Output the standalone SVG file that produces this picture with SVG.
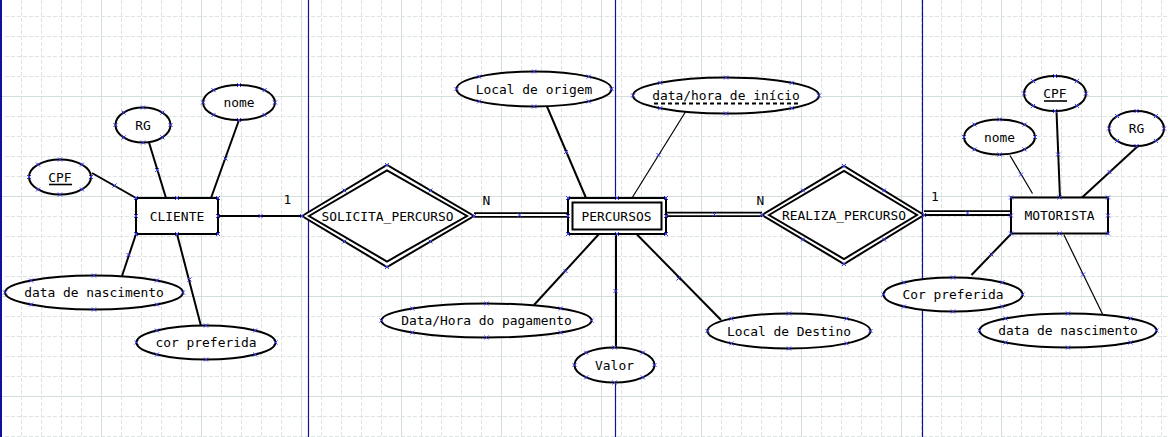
<svg xmlns="http://www.w3.org/2000/svg" xmlns:xlink="http://www.w3.org/1999/xlink" width="1168" height="437" viewBox="0 0 1168 437">
<style>
.gd{fill:none;stroke:#dde5e2;stroke-width:1;stroke-dasharray:4,2}
.gs{fill:none;stroke:#d3dedb;stroke-width:1}
.pg{stroke:#10109a;stroke-width:1.2}
.ent{fill:#fff;stroke:#000;stroke-width:2}
.att{fill:#fff;stroke:#000;stroke-width:2}
.rel{fill:#fff;stroke:#000;stroke-width:2;stroke-linejoin:miter}
.ln{stroke:#000;stroke-width:2;fill:none}
.thin{stroke:#000;stroke-width:1.2;fill:none}
.dbl{stroke:#000;stroke-width:1.8;fill:none}
text{font-family:"DejaVu Sans Mono","Liberation Mono",monospace;font-size:12.9px;fill:#000;text-anchor:middle}
.ul{stroke:#000;stroke-width:1.6}
.du{stroke:#000;stroke-width:2;stroke-dasharray:4,3}
.mk{stroke:#3a3af0;stroke-width:1;fill:none}
</style>
<defs>
<path id="x" class="mk" d="M-2-2l4 4m0-4l-4 4"/>
</defs>
<rect width="1168" height="437" fill="#fff"/>
<g id="grid">
<path class="gd" d="M21.5 0V437M41.5 0V437M61.5 0V437M81.5 0V437M121.5 0V437M141.5 0V437M161.5 0V437M181.5 0V437M221.5 0V437M241.5 0V437M261.5 0V437M281.5 0V437M321.5 0V437M341.5 0V437M361.5 0V437M381.5 0V437M421.5 0V437M441.5 0V437M461.5 0V437M481.5 0V437M521.5 0V437M541.5 0V437M561.5 0V437M581.5 0V437M621.5 0V437M641.5 0V437M661.5 0V437M681.5 0V437M721.5 0V437M741.5 0V437M761.5 0V437M781.5 0V437M821.5 0V437M841.5 0V437M861.5 0V437M881.5 0V437M921.5 0V437M941.5 0V437M961.5 0V437M981.5 0V437M1021.5 0V437M1041.5 0V437M1061.5 0V437M1081.5 0V437M1121.5 0V437M1141.5 0V437M1161.5 0V437"/>
<path class="gd" d="M5 16.5H1168M5 36.5H1168M5 56.5H1168M5 76.5H1168M5 116.5H1168M5 136.5H1168M5 156.5H1168M5 176.5H1168M5 216.5H1168M5 236.5H1168M5 256.5H1168M5 276.5H1168M5 316.5H1168M5 336.5H1168M5 356.5H1168M5 376.5H1168M5 416.5H1168M5 436.5H1168"/>
<path class="gs" d="M101.5 0V437M201.5 0V437M301.5 0V437M401.5 0V437M501.5 0V437M601.5 0V437M701.5 0V437M801.5 0V437M901.5 0V437M1001.5 0V437M1101.5 0V437M0 96.5H1168M0 196.5H1168M0 296.5H1168M0 396.5H1168"/>
<line class="pg" x1="1" y1="0" x2="1" y2="437" style="stroke-width:2"/>
<line class="pg" x1="308.5" y1="0" x2="308.5" y2="437"/>
<line class="pg" x1="615.5" y1="0" x2="615.5" y2="437"/>
<line class="pg" x1="922.5" y1="0" x2="922.5" y2="437"/>
</g>
<g id="connectors">
<line class="ln" x1="92" y1="173" x2="136" y2="198"/>
<line class="ln" x1="149" y1="142.5" x2="166" y2="198"/>
<line class="ln" x1="239" y1="120" x2="211" y2="198"/>
<line class="ln" x1="136" y1="234" x2="122" y2="276"/>
<line class="ln" x1="177" y1="234" x2="201" y2="326"/>
<line class="ln" x1="218" y1="216" x2="302" y2="216"/>
<line class="ln" x1="547" y1="106.5" x2="586" y2="198"/>
<line class="thin" x1="686" y1="111" x2="632" y2="198"/>
<line class="dbl" x1="474" y1="213.2" x2="568" y2="213.2"/>
<line class="dbl" x1="474" y1="216.8" x2="568" y2="216.8"/>
<line class="ln" x1="599" y1="234" x2="534" y2="305"/>
<line class="ln" x1="616" y1="234" x2="616" y2="347.5"/>
<line class="ln" x1="636.5" y1="234" x2="721" y2="320"/>
<line class="dbl" x1="666" y1="212.6" x2="762" y2="212.6"/>
<line class="dbl" x1="666" y1="216.2" x2="762" y2="216.2"/>
<line class="dbl" x1="924" y1="211.2" x2="1011" y2="211.2"/>
<line class="dbl" x1="924" y1="215" x2="1011" y2="215"/>
<line class="thin" x1="1010" y1="155.5" x2="1032.5" y2="193.5"/>
<line class="ln" x1="1056.5" y1="111" x2="1060" y2="198"/>
<line class="ln" x1="1138" y1="146" x2="1081.5" y2="198"/>
<line class="ln" x1="1011" y1="234" x2="971.5" y2="275"/>
<line class="thin" x1="1064" y1="235" x2="1102.5" y2="314"/>
<text x="287.5" y="204">1</text>
<text x="486.5" y="205">N</text>
<text x="760.5" y="205">N</text>
<text x="935" y="201">1</text>
<use href="#x" x="114.5" y="185.5"/>
<use href="#x" x="157" y="170"/>
<use href="#x" x="225.5" y="158.5"/>
<use href="#x" x="128.5" y="255"/>
<use href="#x" x="189.5" y="279.5"/>
<use href="#x" x="260.5" y="216"/>
<use href="#x" x="566" y="152"/>
<use href="#x" x="658.5" y="155"/>
<use href="#x" x="519.5" y="215"/>
<use href="#x" x="565.5" y="271"/>
<use href="#x" x="615.5" y="291"/>
<use href="#x" x="678.5" y="278.5"/>
<use href="#x" x="714.5" y="214.5"/>
<use href="#x" x="967.5" y="213"/>
<use href="#x" x="1021" y="174.5"/>
<use href="#x" x="1058" y="154.5"/>
<use href="#x" x="1109.5" y="172"/>
<use href="#x" x="991.5" y="254.5"/>
<use href="#x" x="1083" y="274.5"/>
</g>
<g id="cliente">
<rect class="ent" x="136" y="198" width="82" height="36"/>
<text x="177" y="220.5">CLIENTE</text>
<use href="#x" x="136" y="198"/><use href="#x" x="177" y="198"/><use href="#x" x="218" y="198"/><use href="#x" x="136" y="216"/><use href="#x" x="218" y="216"/><use href="#x" x="136" y="234"/><use href="#x" x="177" y="234"/><use href="#x" x="218" y="234"/>
</g>
<g id="cliente-cpf">
<ellipse class="att" cx="60" cy="177" rx="31" ry="17.5"/>
<text x="60" y="181.5">CPF</text>
<line class="ul" x1="49" y1="184.5" x2="72" y2="184.5"/>
<use href="#x" x="29" y="177"/><use href="#x" x="91" y="177"/><use href="#x" x="60" y="159.5"/><use href="#x" x="60" y="194.5"/><use href="#x" x="38.1" y="164.6"/><use href="#x" x="81.9" y="164.6"/><use href="#x" x="38.1" y="189.4"/><use href="#x" x="81.9" y="189.4"/>
</g>
<g id="cliente-rg">
<ellipse class="att" cx="143" cy="125" rx="27.5" ry="17.5"/>
<text x="143" y="129.5">RG</text>
<use href="#x" x="115.5" y="125"/><use href="#x" x="170.5" y="125"/><use href="#x" x="143" y="107.5"/><use href="#x" x="143" y="142.5"/><use href="#x" x="123.6" y="112.6"/><use href="#x" x="162.4" y="112.6"/><use href="#x" x="123.6" y="137.4"/><use href="#x" x="162.4" y="137.4"/>
</g>
<g id="cliente-nome">
<ellipse class="att" cx="239" cy="102.5" rx="36" ry="17.5"/>
<text x="239" y="107">nome</text>
<use href="#x" x="203" y="102.5"/><use href="#x" x="275" y="102.5"/><use href="#x" x="239" y="85"/><use href="#x" x="239" y="120"/><use href="#x" x="213.5" y="90.1"/><use href="#x" x="264.5" y="90.1"/><use href="#x" x="213.5" y="114.9"/><use href="#x" x="264.5" y="114.9"/>
</g>
<g id="cliente-nascimento">
<ellipse class="att" cx="94" cy="292.5" rx="89" ry="17"/>
<text x="94" y="297">data de nascimento</text>
<use href="#x" x="5" y="292.5"/><use href="#x" x="183" y="292.5"/><use href="#x" x="94" y="275.5"/><use href="#x" x="94" y="309.5"/><use href="#x" x="31.1" y="280.5"/><use href="#x" x="156.9" y="280.5"/><use href="#x" x="31.1" y="304.5"/><use href="#x" x="156.9" y="304.5"/>
</g>
<g id="cliente-cor">
<ellipse class="att" cx="206" cy="342.5" rx="69.5" ry="17"/>
<text x="206" y="347">cor preferida</text>
<use href="#x" x="136.5" y="342.5"/><use href="#x" x="275.5" y="342.5"/><use href="#x" x="206" y="325.5"/><use href="#x" x="206" y="359.5"/><use href="#x" x="156.9" y="330.5"/><use href="#x" x="255.1" y="330.5"/><use href="#x" x="156.9" y="354.5"/><use href="#x" x="255.1" y="354.5"/>
</g>
<g id="solicita">
<polygon class="rel" points="302,216 387,165 474,216 387,267"/>
<polygon class="rel" points="309,216 387,170.5 467,216 387,261.5"/>
<text x="387.5" y="220.5">SOLICITA_PERCURSO</text>
<use href="#x" x="302" y="216"/><use href="#x" x="387" y="165"/><use href="#x" x="474" y="216"/><use href="#x" x="387" y="267"/><use href="#x" x="344.5" y="190.5"/><use href="#x" x="430.5" y="190.5"/><use href="#x" x="344.5" y="241.5"/><use href="#x" x="430.5" y="241.5"/>
</g>
<g id="percursos">
<rect class="ent" x="568" y="198" width="98" height="36"/>
<rect class="ent" x="572.5" y="202.5" width="89" height="27"/>
<text x="616.5" y="220.5">PERCURSOS</text>
<use href="#x" x="568" y="198"/><use href="#x" x="617" y="198"/><use href="#x" x="666" y="198"/><use href="#x" x="568" y="216"/><use href="#x" x="666" y="216"/><use href="#x" x="568" y="234"/><use href="#x" x="617" y="234"/><use href="#x" x="666" y="234"/>
</g>
<g id="percursos-origem">
<ellipse class="att" cx="534" cy="89" rx="77.5" ry="17.5"/>
<text x="534" y="93.5">Local de origem</text>
<use href="#x" x="456.5" y="89"/><use href="#x" x="611.5" y="89"/><use href="#x" x="534" y="71.5"/><use href="#x" x="534" y="106.5"/><use href="#x" x="479.2" y="76.6"/><use href="#x" x="588.8" y="76.6"/><use href="#x" x="479.2" y="101.4"/><use href="#x" x="588.8" y="101.4"/>
</g>
<g id="percursos-inicio">
<ellipse class="att" cx="726" cy="95.5" rx="93" ry="18"/>
<text x="726" y="100">data/hora de início</text>
<line class="du" x1="654" y1="103.5" x2="798.5" y2="103.5"/>
<use href="#x" x="633" y="95.5"/><use href="#x" x="819" y="95.5"/><use href="#x" x="726" y="77.5"/><use href="#x" x="726" y="113.5"/><use href="#x" x="660.2" y="82.8"/><use href="#x" x="791.8" y="82.8"/><use href="#x" x="660.2" y="108.2"/><use href="#x" x="791.8" y="108.2"/>
</g>
<g id="percursos-pagamento">
<ellipse class="att" cx="486.5" cy="320.5" rx="105" ry="17"/>
<text x="486.5" y="325">Data/Hora do pagamento</text>
<use href="#x" x="381.5" y="320.5"/><use href="#x" x="591.5" y="320.5"/><use href="#x" x="486.5" y="303.5"/><use href="#x" x="486.5" y="337.5"/><use href="#x" x="412.3" y="308.5"/><use href="#x" x="560.7" y="308.5"/><use href="#x" x="412.3" y="332.5"/><use href="#x" x="560.7" y="332.5"/>
</g>
<g id="percursos-valor">
<ellipse class="att" cx="614.5" cy="365" rx="40" ry="17.5"/>
<text x="614.5" y="369.5">Valor</text>
<use href="#x" x="574.5" y="365"/><use href="#x" x="654.5" y="365"/><use href="#x" x="614.5" y="347.5"/><use href="#x" x="614.5" y="382.5"/><use href="#x" x="586.2" y="352.6"/><use href="#x" x="642.8" y="352.6"/><use href="#x" x="586.2" y="377.4"/><use href="#x" x="642.8" y="377.4"/>
</g>
<g id="percursos-destino">
<ellipse class="att" cx="789" cy="331" rx="81.5" ry="17.5"/>
<text x="789" y="335.5">Local de Destino</text>
<use href="#x" x="707.5" y="331"/><use href="#x" x="870.5" y="331"/><use href="#x" x="789" y="313.5"/><use href="#x" x="789" y="348.5"/><use href="#x" x="731.4" y="318.6"/><use href="#x" x="846.6" y="318.6"/><use href="#x" x="731.4" y="343.4"/><use href="#x" x="846.6" y="343.4"/>
</g>
<g id="realiza">
<polygon class="rel" points="762,215 844,166 924,215 844,264"/>
<polygon class="rel" points="769,215 844,171 917,215 844,259"/>
<text x="844" y="219.5">REALIZA_PERCURSO</text>
<use href="#x" x="762" y="215"/><use href="#x" x="844" y="166"/><use href="#x" x="924" y="215"/><use href="#x" x="844" y="264"/><use href="#x" x="803" y="190.5"/><use href="#x" x="884" y="190.5"/><use href="#x" x="803" y="239.5"/><use href="#x" x="884" y="239.5"/>
</g>
<g id="motorista">
<rect class="ent" x="1011" y="197.5" width="97" height="36"/>
<text x="1059.5" y="220">MOTORISTA</text>
<use href="#x" x="1011" y="197.5"/><use href="#x" x="1059.5" y="197.5"/><use href="#x" x="1108" y="197.5"/><use href="#x" x="1011" y="215.5"/><use href="#x" x="1108" y="215.5"/><use href="#x" x="1011" y="233.5"/><use href="#x" x="1059.5" y="233.5"/><use href="#x" x="1108" y="233.5"/>
</g>
<g id="motorista-cpf">
<ellipse class="att" cx="1055" cy="93.5" rx="31" ry="17.5"/>
<text x="1055" y="98">CPF</text>
<line class="ul" x1="1044" y1="101" x2="1067" y2="101"/>
<use href="#x" x="1024" y="93.5"/><use href="#x" x="1086" y="93.5"/><use href="#x" x="1055" y="76"/><use href="#x" x="1055" y="111"/><use href="#x" x="1033.1" y="81.1"/><use href="#x" x="1076.9" y="81.1"/><use href="#x" x="1033.1" y="105.9"/><use href="#x" x="1076.9" y="105.9"/>
</g>
<g id="motorista-rg">
<ellipse class="att" cx="1136.5" cy="128.5" rx="27.5" ry="17.5"/>
<text x="1136.5" y="133">RG</text>
<use href="#x" x="1109" y="128.5"/><use href="#x" x="1164" y="128.5"/><use href="#x" x="1136.5" y="111"/><use href="#x" x="1136.5" y="146"/><use href="#x" x="1117.1" y="116.1"/><use href="#x" x="1155.9" y="116.1"/><use href="#x" x="1117.1" y="140.9"/><use href="#x" x="1155.9" y="140.9"/>
</g>
<g id="motorista-nome">
<ellipse class="att" cx="999.5" cy="137" rx="35.5" ry="17.5"/>
<text x="999.5" y="141.5">nome</text>
<use href="#x" x="964" y="137"/><use href="#x" x="1035" y="137"/><use href="#x" x="999.5" y="119.5"/><use href="#x" x="999.5" y="154.5"/><use href="#x" x="974.4" y="124.6"/><use href="#x" x="1024.6" y="124.6"/><use href="#x" x="974.4" y="149.4"/><use href="#x" x="1024.6" y="149.4"/>
</g>
<g id="motorista-cor">
<ellipse class="att" cx="953" cy="294.5" rx="69.5" ry="17"/>
<text x="953" y="299">Cor preferida</text>
<use href="#x" x="883.5" y="294.5"/><use href="#x" x="1022.5" y="294.5"/><use href="#x" x="953" y="277.5"/><use href="#x" x="953" y="311.5"/><use href="#x" x="903.9" y="282.5"/><use href="#x" x="1002.1" y="282.5"/><use href="#x" x="903.9" y="306.5"/><use href="#x" x="1002.1" y="306.5"/>
</g>
<g id="motorista-nascimento">
<ellipse class="att" cx="1068" cy="330.5" rx="88.5" ry="17"/>
<text x="1068" y="335">data de nascimento</text>
<use href="#x" x="979.5" y="330.5"/><use href="#x" x="1156.5" y="330.5"/><use href="#x" x="1068" y="313.5"/><use href="#x" x="1068" y="347.5"/><use href="#x" x="1005.4" y="318.5"/><use href="#x" x="1130.6" y="318.5"/><use href="#x" x="1005.4" y="342.5"/><use href="#x" x="1130.6" y="342.5"/>
</g>
</svg>
